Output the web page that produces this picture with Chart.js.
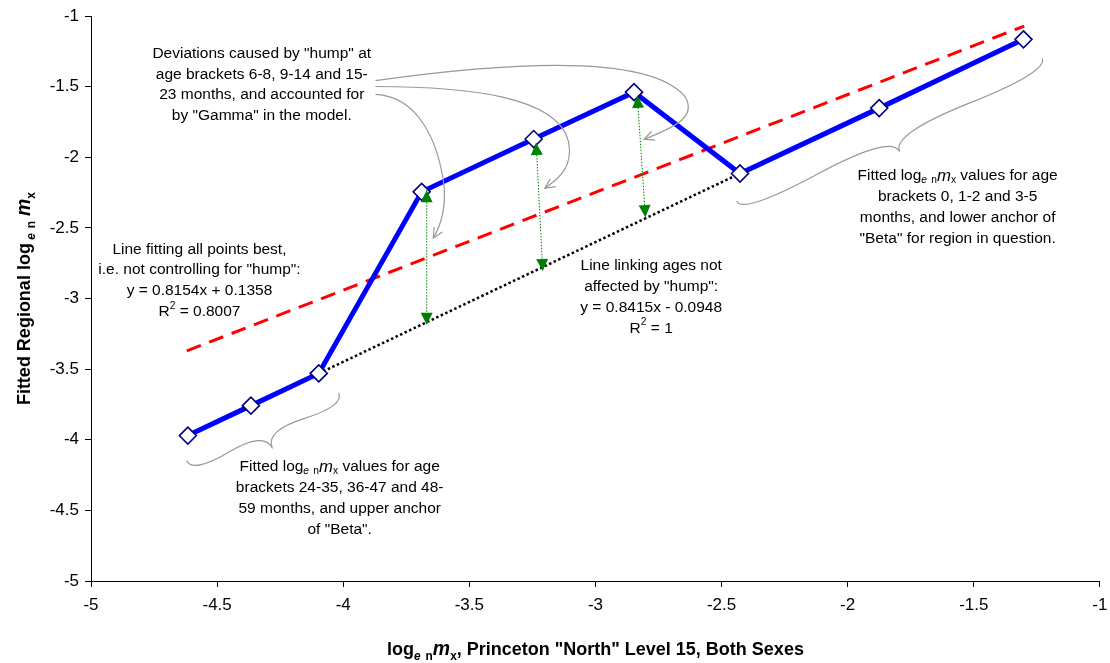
<!DOCTYPE html>
<html>
<head>
<meta charset="utf-8">
<script src="https://cdn.jsdelivr.net/npm/chart.js@4"></script>
<style>
  html, body { margin: 0; padding: 0; background: #fff; }
  #wrap { width: 1110px; height: 663px; }
</style>
</head>
<body>
<div id="wrap"><canvas id="chart"></canvas></div>
<script>
// fitted log_e nmx per age bracket: x = Princeton North L15, y = regional
const fittedX = [-4.616, -4.366, -4.097, -3.689, -3.245, -2.847, -2.427, -1.875, -1.303];
const fittedY = [-3.970, -3.758, -3.530, -2.244, -1.870, -1.538, -2.114, -1.651, -1.164];

// red dashed line fitting all points (as drawn)
const trendAllX = [-4.62, -1.30];
const trendAllY = [-3.37, -1.07];

// dotted line linking the ages not affected by the hump
const linkX = [-4.097, -2.427];
const linkY = [-3.530, -2.114];

// green deviation arrows: tip at the point, tip on the dotted line
const devTopX = [-3.669, -3.235, -2.834];
const devTopY = [-2.232, -1.898, -1.564];
const devBotX = [-3.669, -3.209, -2.802];
const devBotY = [-3.186, -2.804, -2.423];

const tickValues = [-5, -4.5, -4, -3.5, -3, -2.5, -2, -1.5, -1];

// grey callout curves (data coords, cubic segments), braces
const calloutCurves = [
  [[-3.872, -1.456], [-3.387, -1.335], [-2.795, -1.251], [-2.645, -1.569], [-2.598, -1.710], [-2.677, -1.780], [-2.807, -1.872]],
  [[-3.872, -1.498], [-3.505, -1.498], [-3.150, -1.569], [-3.107, -1.886], [-3.087, -2.063], [-3.142, -2.148], [-3.201, -2.218]],
  [[-3.872, -1.554], [-3.702, -1.569], [-3.623, -1.886], [-3.600, -2.204], [-3.592, -2.381], [-3.615, -2.487], [-3.643, -2.571]]
];
const braces = [
  [[-4.621, -4.146], [-4.018, -3.666]],
  [[-2.440, -2.310], [-1.229, -1.300]]
];

// annotation text blocks: anchor (center of first line) in data coords
const LOG = [['Fitted log', ''], ['e', 'subi'], [' ', ''], ['n', 'sub'], ['m', 'i'], ['x', 'sub']];
const notes = [
  { at: [-4.323, -1.265], lines: [
    [['Deviations caused by "hump" at', '']],
    [['age brackets 6-8, 9-14 and 15-', '']],
    [['23 months, and accounted for', '']],
    [['by "Gamma" in the model.', '']]] },
  { at: [-4.570, -2.651], lines: [
    [['Line fitting all points best,', '']],
    [['i.e. not controlling for "hump":', '']],
    [['y = 0.8154x + 0.1358', '']],
    [['R', ''], ['2', 'sup'], [' = 0.8007', '']]] },
  { at: [-2.779, -2.769], lines: [
    [['Line linking ages not', '']],
    [['affected by "hump":', '']],
    [['y = 0.8415x - 0.0948', '']],
    [['R', ''], ['2', 'sup'], [' = 1', '']]] },
  { at: [-1.564, -2.131], lines: [
    LOG.concat([[' values for age', '']]),
    [['brackets 0, 1-2 and 3-5', '']],
    [['months, and lower anchor of', '']],
    [['"Beta" for region in question.', '']]] },
  { at: [-4.014, -4.193], lines: [
    LOG.concat([[' values for age', '']]),
    [['brackets 24-35, 36-47 and 48-', '']],
    [['59 months, and upper anchor', '']],
    [['of "Beta".', '']]] }
];

const xTitle = [['log', ''], ['e', 'subi'], [' ', ''], ['n', 'sub'], ['m', 'i'], ['x', 'sub'], [', Princeton "North" Level 15, Both Sexes', '']];
const yTitle = [['Fitted Regional log', ''], [' e', 'subi'], [' ', ''], ['n', 'sub'], [' ', ''], ['m', 'i'], ['x', 'sub']];

const FAM = '"Liberation Sans", Arial, Helvetica, sans-serif';
Chart.defaults.font.family = FAM;
Chart.defaults.color = '#000';

function runFont(p, size, bold) {
  const small = p[1] === 'sub' || p[1] === 'subi' || p[1] === 'sup';
  const it = (p[1] === 'i' || p[1] === 'subi') ? 'italic ' : '';
  return it + (bold ? 'bold ' : '') + (small ? size * 0.66 : size * (p[1] === 'i' ? 1.08 : 1)) + 'px ' + FAM;
}

function drawRuns(ctx, parts, x, y, size, bold) {
  let w = 0;
  parts.forEach((p) => { ctx.font = runFont(p, size, bold); w += ctx.measureText(p[0]).width; });
  let cx = x - w / 2;
  parts.forEach((p) => {
    ctx.font = runFont(p, size, bold);
    const dy = (p[1] === 'sub' || p[1] === 'subi') ? size * 0.25 : p[1] === 'sup' ? -size * 0.38 : 0;
    ctx.fillText(p[0], cx, y + dy);
    cx += ctx.measureText(p[0]).width;
  });
}

function drawBrace(ctx, x1, y1, x2, y2, w, q) {
  let dx = x1 - x2, dy = y1 - y2;
  const len = Math.hypot(dx, dy);
  dx /= len; dy /= len;
  const qx1 = x1 + q * w * dy, qy1 = y1 - q * w * dx;
  const qx2 = (x1 - 0.25 * len * dx) + (1 - q) * w * dy, qy2 = (y1 - 0.25 * len * dy) - (1 - q) * w * dx;
  const tx = (x1 - 0.5 * len * dx) + w * dy, ty = (y1 - 0.5 * len * dy) - w * dx;
  const qx3 = x2 + q * w * dy, qy3 = y2 - q * w * dx;
  const qx4 = (x1 - 0.75 * len * dx) + (1 - q) * w * dy, qy4 = (y1 - 0.75 * len * dy) - (1 - q) * w * dx;
  ctx.beginPath();
  ctx.moveTo(x1, y1);
  ctx.quadraticCurveTo(qx1, qy1, qx2, qy2);
  ctx.quadraticCurveTo(2 * qx2 - qx1, 2 * qy2 - qy1, tx, ty);
  ctx.moveTo(x2, y2);
  ctx.quadraticCurveTo(qx3, qy3, qx4, qy4);
  ctx.quadraticCurveTo(2 * qx4 - qx3, 2 * qy4 - qy3, tx, ty);
  ctx.stroke();
}

const annotations = {
  id: 'annotations',
  afterDatasetsDraw(chart) {
    const { ctx, scales: { x, y }, chartArea } = chart;
    const P = (pt) => [x.getPixelForValue(pt[0]), y.getPixelForValue(pt[1])];
    ctx.save();

    // green arrowheads at both ends of each deviation line
    chart.data.datasets.forEach((ds, i) => {
      if (ds.label !== 'deviation') return;
      const pts = chart.getDatasetMeta(i).data;
      const a = pts[0], b = pts[1];
      [[a, b], [b, a]].forEach(([tip, from]) => {
        const ang = Math.atan2(tip.y - from.y, tip.x - from.x);
        ctx.save();
        ctx.translate(tip.x, tip.y);
        ctx.rotate(ang);
        ctx.fillStyle = '#008000';
        ctx.beginPath();
        ctx.moveTo(0, 0);
        ctx.lineTo(-12, -6);
        ctx.lineTo(-12, 6);
        ctx.closePath();
        ctx.fill();
        ctx.restore();
      });
    });

    // grey callout arrows
    ctx.strokeStyle = '#999';
    ctx.lineWidth = 1.2;
    calloutCurves.forEach((c) => {
      const p = c.map(P);
      ctx.beginPath();
      ctx.moveTo(p[0][0], p[0][1]);
      ctx.bezierCurveTo(p[1][0], p[1][1], p[2][0], p[2][1], p[3][0], p[3][1]);
      ctx.bezierCurveTo(p[4][0], p[4][1], p[5][0], p[5][1], p[6][0], p[6][1]);
      ctx.stroke();
      const e = p[6], c2 = p[5];
      const ang = Math.atan2(e[1] - c2[1], e[0] - c2[0]);
      ctx.beginPath();
      ctx.moveTo(e[0] - 11 * Math.cos(ang - 0.45), e[1] - 11 * Math.sin(ang - 0.45));
      ctx.lineTo(e[0], e[1]);
      ctx.lineTo(e[0] - 11 * Math.cos(ang + 0.45), e[1] - 11 * Math.sin(ang + 0.45));
      ctx.stroke();
    });

    // braces
    braces.forEach((b) => {
      const p1 = P(b[0]), p2 = P(b[1]);
      drawBrace(ctx, p1[0], p1[1], p2[0], p2[1], 24, 0.6);
    });

    // text notes
    ctx.fillStyle = '#000';
    ctx.textBaseline = 'middle';
    notes.forEach((n) => {
      const a = P(n.at);
      n.lines.forEach((ln, k) => drawRuns(ctx, ln, a[0], a[1] + k * 20.8, 15.5, false));
    });

    // axis titles
    ctx.textBaseline = 'alphabetic';
    drawRuns(ctx, xTitle, (chartArea.left + chartArea.right) / 2, 655, 18, true);
    ctx.translate(30, (chartArea.top + chartArea.bottom) / 2);
    ctx.rotate(-Math.PI / 2);
    drawRuns(ctx, yTitle, 0, 0, 18, true);
    ctx.restore();
  }
};

const deviationSets = devTopX.map((x0, i) => ({
  label: 'deviation',
  data: [{ x: x0, y: devTopY[i] }, { x: devBotX[i], y: devBotY[i] }],
  showLine: true,
  borderColor: '#008000',
  borderWidth: 1,
  borderDash: [1.5, 1.5],
  pointRadius: 0,
  order: 0
}));

const axis = (fit) => ({
  type: 'linear',
  min: -5,
  max: -1,
  afterBuildTicks: (s) => { s.ticks = tickValues.map((v) => ({ value: v })); },
  ticks: { font: { size: 17 }, color: '#000', callback: (v) => String(v) },
  grid: { drawOnChartArea: false, drawTicks: true, tickLength: 6, color: '#000' },
  border: { color: '#000', width: 1 },
  afterFit: fit
});

const xAxis = axis((s) => { s.height = 82; s.paddingRight = 1; });
xAxis.ticks.padding = 8;
const yAxis = axis((s) => { s.width = 91; });
yAxis.ticks.padding = 6;

new Chart(document.getElementById('chart'), {
  type: 'scatter',
  data: {
    datasets: deviationSets.concat([
      {
        label: 'fitted',
        data: fittedX.map((x, i) => ({ x, y: fittedY[i] })),
        showLine: true,
        borderColor: '#0000FF',
        borderWidth: 5,
        pointStyle: 'rectRot',
        pointRadius: 8.5,
        pointBackgroundColor: '#FFFFFF',
        pointBorderColor: '#000080',
        pointBorderWidth: 1.6,
        order: 1
      },
      {
        label: 'link',
        data: linkX.map((x, i) => ({ x, y: linkY[i] })),
        showLine: true,
        borderColor: '#000000',
        borderWidth: 2.5,
        borderDash: [2.5, 2.5],
        pointRadius: 0,
        order: 2
      },
      {
        label: 'trend',
        data: trendAllX.map((x, i) => ({ x, y: trendAllY[i] })),
        showLine: true,
        borderColor: '#FF0000',
        borderWidth: 3,
        borderDash: [15, 9],
        pointRadius: 0,
        order: 3
      }
    ])
  },
  options: {
    responsive: true,
    maintainAspectRatio: false,
    animation: false,
    layout: { padding: { top: 12, right: 0, bottom: 0, left: 0 } },
    plugins: { legend: { display: false }, tooltip: { enabled: false } },
    scales: { x: xAxis, y: yAxis }
  },
  plugins: [annotations]
});
</script>
</body>
</html>
